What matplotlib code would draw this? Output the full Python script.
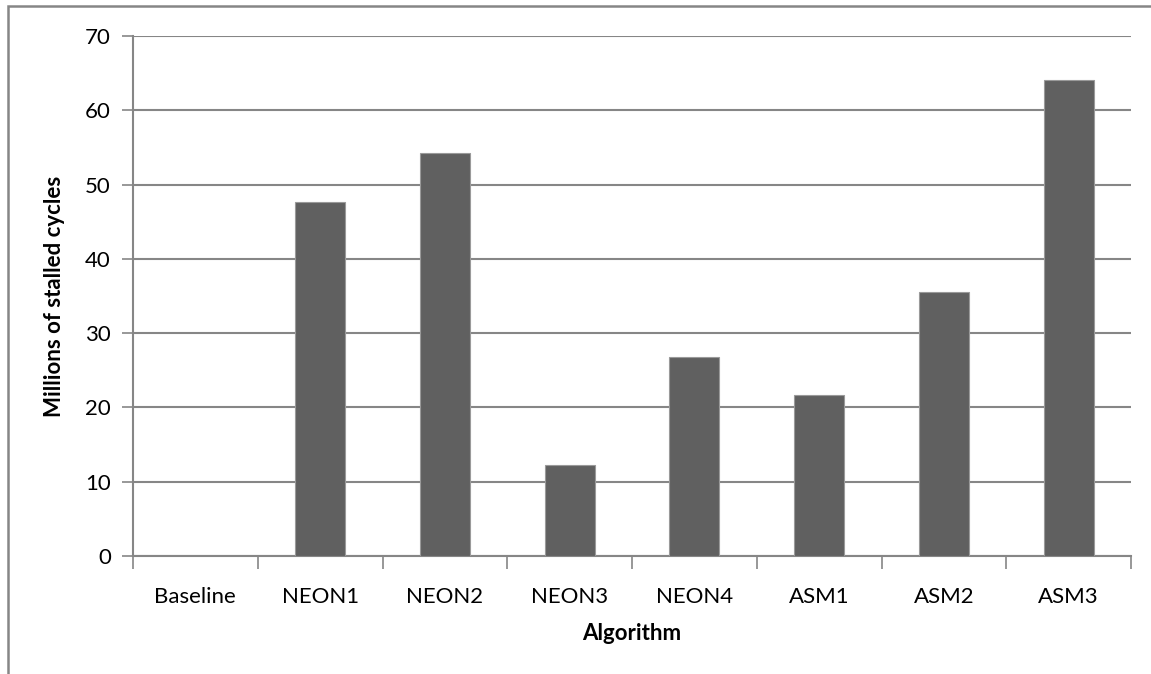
import matplotlib.pyplot as plt
import matplotlib.patches as patches
import numpy as np

categories = ["Baseline", "NEON1", "NEON2", "NEON3", "NEON4", "ASM1", "ASM2", "ASM3"]
stalled_cycles = [0, 47.6, 54.3, 12.3, 26.8, 21.7, 35.6, 64.1]

plt.rcParams['font.family'] = ['Lato', 'DejaVu Sans']

fig = plt.figure(figsize=(11.51, 6.74), dpi=100)
ax = fig.add_axes([133 / 1151, 1 - 556 / 674, (1131 - 133) / 1151, (556 - 36) / 674])

x = np.arange(len(categories))
ax.bar(x, stalled_cycles, width=0.4, color='#606060', edgecolor='#9a9a9a', linewidth=0.8, zorder=3)

ax.set_xlim(-0.5, len(categories) - 0.5)
ax.set_ylim(0, 70)
ax.set_yticks(range(0, 71, 10))
ax.grid(axis='y', color='#868686', linewidth=1.5, zorder=0)

ax.set_xticks(x)
ax.set_xticklabels(categories, fontsize=16)
ax.set_xticks(np.arange(-0.5, len(categories), 1), minor=True)
ax.tick_params(axis='x', which='major', length=0, pad=22)
ax.tick_params(axis='x', which='minor', length=9, width=1.2, color='#868686')
ax.tick_params(axis='y', length=8, width=1.2, color='#868686', labelsize=16, pad=8)

for side in ['top', 'right']:
    ax.spines[side].set_visible(False)
for side in ['left', 'bottom']:
    ax.spines[side].set_color('#868686')
    ax.spines[side].set_linewidth(1.5)

ax.set_xlabel("Algorithm", fontsize=16, fontweight='bold', labelpad=12)
ax.set_ylabel("Millions of stalled cycles", fontsize=16, fontweight='bold', labelpad=14)

# outer chart frame, partly cut off at right and bottom
frame = patches.Rectangle((8 / 1151, -0.05), 1.1, 1 - 6 / 674 + 0.05, transform=fig.transFigure,
                          fill=False, edgecolor='#868686', linewidth=1.8, clip_on=False)
fig.patches.append(frame)

fig.savefig("out.png", dpi=100)
